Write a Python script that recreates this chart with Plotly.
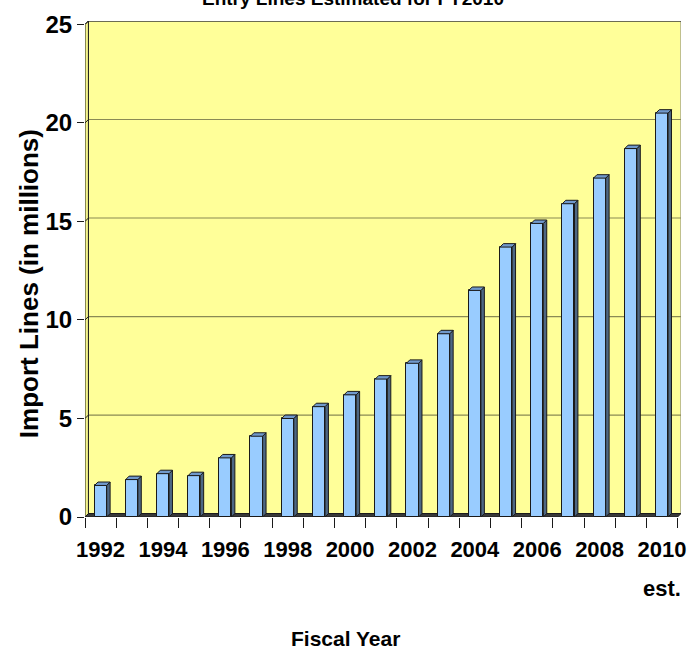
import plotly.graph_objects as go

# Import lines processed per fiscal year (millions); FY2010 is an estimate
years = list(range(1992, 2011))
import_lines = [1.6, 1.9, 2.2, 2.1, 3.0, 4.1, 5.0, 5.6, 6.2, 7.0, 7.8, 9.3,
                11.5, 13.7, 14.9, 15.9, 17.2, 18.7, 20.5]
year_labels = ["1992", "", "1994", "", "1996", "", "1998", "", "2000", "",
               "2002", "", "2004", "", "2006", "", "2008", "", "2010"]
y_ticks = [0, 5, 10, 15, 20, 25]

title_text = "Entry Lines Estimated for FY2010"
y_title = "Import Lines (in millions)"
x_title = "Fiscal Year"
est_note = "est."

FONT = "Liberation Sans, Arial, sans-serif"

BAR_W = 0.39      # front-face width in category units
DX = 0.11         # depth offset (x data units)
DY = 0.175        # depth offset (y data units)
x0, x1 = years[0] - 0.5, years[-1] + 0.5
ymax = y_ticks[-1]

fig = go.Figure()

# side and top faces of the pseudo-3D columns
sx, sy, tx, ty = [], [], [], []
for x, v in zip(years, import_lines):
    l, r = x - BAR_W / 2, x + BAR_W / 2
    sx += [r, r + DX, r + DX, r, r, None]
    sy += [0, DY, v + DY, v, 0, None]
    tx += [l, l + DX, r + DX, r, l, None]
    ty += [v, v + DY, v + DY, v, v, None]

fig.add_trace(go.Bar(
    x=years, y=import_lines, width=BAR_W,
    marker=dict(color="#99ccff", line=dict(color="#1a1a1a", width=1)),
    hoverinfo="x+y",
))
fig.add_trace(go.Scatter(
    x=sx, y=sy, mode="lines", fill="toself", fillcolor="#4d6784",
    line=dict(color="#1a1a1a", width=1), hoverinfo="skip",
))
fig.add_trace(go.Scatter(
    x=tx, y=ty, mode="lines", fill="toself", fillcolor="#7099cc",
    line=dict(color="#1a1a1a", width=1), hoverinfo="skip",
))

shapes = []
# back wall
shapes.append(dict(type="rect", layer="below", xref="x", yref="y",
                   x0=x0 + DX, x1=x1 + DX, y0=DY, y1=ymax + DY,
                   fillcolor="#ffff99", line=dict(color="#808080", width=1)))
# gridlines on the back wall
for t in y_ticks[1:-1]:
    shapes.append(dict(type="line", layer="below", xref="x", yref="y",
                       x0=x0 + DX, x1=x1 + DX, y0=t + DY, y1=t + DY,
                       line=dict(color="#8a8a55", width=1.2)))
# top edge of the wall
shapes.append(dict(type="line", layer="below", xref="x", yref="y",
                   x0=x0 + DX, x1=x1 + DX, y0=ymax + DY, y1=ymax + DY,
                   line=dict(color="#1a1a1a", width=1)))
# left side wall
shapes.append(dict(type="path", layer="below", xref="x", yref="y",
                   path=f"M {x0},0 L {x0 + DX},{DY} L {x0 + DX},{ymax + DY} L {x0},{ymax} Z",
                   fillcolor="#f4f48c", line=dict(color="#1a1a1a", width=1)))
# floor
shapes.append(dict(type="path", layer="below", xref="x", yref="y",
                   path=f"M {x0},0 L {x1},0 L {x1 + DX},{DY} L {x0 + DX},{DY} Z",
                   fillcolor="#3a3a3a", line=dict(color="#1a1a1a", width=1)))
# tick connectors from the front axis to the wall
for t in y_ticks:
    shapes.append(dict(type="line", layer="below", xref="x", yref="y",
                       x0=x0, x1=x0 + DX, y0=t, y1=t + DY,
                       line=dict(color="#1a1a1a", width=1)))

annotations = [
    dict(text=title_text, xref="paper", yref="paper", x=0.449, y=1.020,
         xanchor="center", yanchor="bottom", showarrow=False,
         font=dict(family=FONT, size=19, color="black", weight="bold")),
    dict(text=y_title, xref="paper", yref="paper", x=-0.0935, y=0.47,
         xanchor="center", yanchor="middle", textangle=-90, showarrow=False,
         font=dict(family=FONT, size=26, color="black", weight="bold")),
    dict(text=x_title, xref="paper", yref="paper", x=0.4376, y=-0.245,
         xanchor="center", yanchor="middle", showarrow=False,
         font=dict(family=FONT, size=21, color="black", weight="bold")),
    dict(text=est_note, xref="x", yref="paper", x=years[-1], y=-0.145,
         xanchor="center", yanchor="middle", showarrow=False,
         font=dict(family=FONT, size=22, color="black", weight="bold")),
]

fig.update_layout(
    width=697, height=653,
    margin=dict(l=85, r=11, t=15, b=136),
    paper_bgcolor="white", plot_bgcolor="white",
    showlegend=False, bargap=0,
    shapes=shapes, annotations=annotations,
    xaxis=dict(
        range=[x0, x1 + DX], tickmode="array", tickvals=years, ticktext=year_labels,
        ticks="", showgrid=False, zeroline=False, showline=False, tickangle=0,
        ticklabelstandoff=17,
        tickfont=dict(family=FONT, size=22, color="black", weight="bold"),
        minor=dict(tickmode="array", tickvals=[y - 0.5 for y in years] + [x1],
                   ticks="outside", ticklen=10, tickcolor="#1a1a1a", showgrid=False),
    ),
    yaxis=dict(
        range=[0, ymax + DY], tickmode="array", tickvals=y_ticks,
        ticks="outside", ticklen=7, tickcolor="#1a1a1a",
        showgrid=False, zeroline=False, showline=False,
        tickfont=dict(family=FONT, size=24, color="black", weight="bold"),
    ),
)

fig.write_html("out.html")
